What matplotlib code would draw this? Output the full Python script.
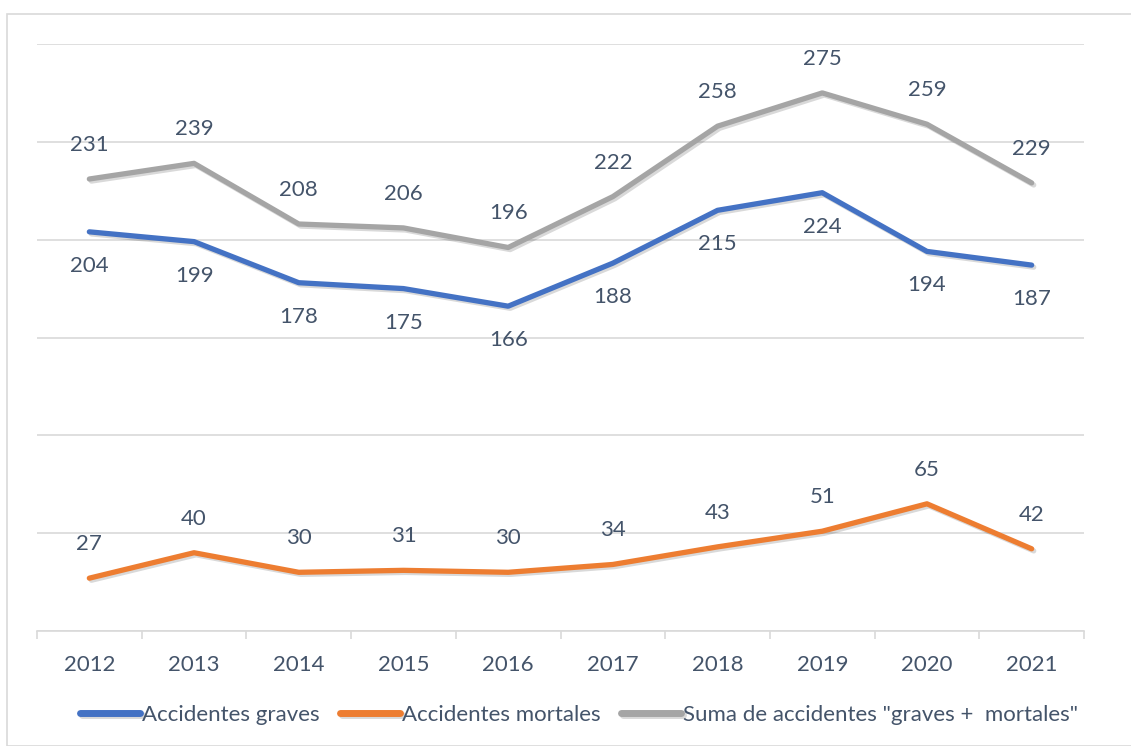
import matplotlib.pyplot as plt
import matplotlib.patheffects as pe
from matplotlib.patches import Rectangle

# data
years = ["2012", "2013", "2014", "2015", "2016", "2017", "2018", "2019", "2020", "2021"]
graves = [204, 199, 178, 175, 166, 188, 215, 224, 194, 187]
mortales = [27, 40, 30, 31, 30, 34, 43, 51, 65, 42]
suma = [231, 239, 208, 206, 196, 222, 258, 275, 259, 229]

text_col = "#44546A"
grid_col = "#D9D9D9"
fs = 16

plt.rcParams["font.family"] = ["Lato", "DejaVu Sans"]

W, H = 1131, 746
fig = plt.figure(figsize=(W / 100, H / 100), dpi=100)

# light frame round the chart area, like the Excel chart border
fig.patches.append(Rectangle((7 / W, 0), 1.2, 1 - 14 / H, transform=fig.transFigure,
                             fill=False, edgecolor="#D9D9D9", linewidth=1.2))

ax = fig.add_axes([37 / W, (H - 631) / H, 1047 / W, 587 / H])

x = list(range(len(years)))
shadow = [pe.SimpleLineShadow(offset=(1.5, -1.5), alpha=0.15, shadow_color="black"), pe.Normal()]

series = [
    (graves, "#4472C4", "Accidentes graves", -1),
    (mortales, "#ED7D31", "Accidentes mortales", 1),
    (suma, "#A5A5A5", 'Suma de accidentes "graves +  mortales"', 1),
]

for vals, col, name, side in series:
    ax.plot(x, vals, color=col, lw=3.8, solid_capstyle="round", solid_joinstyle="round",
            label=name, path_effects=shadow)
    for xi, v in zip(x, vals):
        ax.annotate(str(v), (xi, v), xytext=(0, 24.5 * side), textcoords="offset points",
                    ha="center", va="center", fontsize=fs, color=text_col)

ax.set_xlim(-0.5, len(years) - 0.5)
ax.set_ylim(0, 300)
ax.set_yticks([0, 50, 100, 150, 200, 250, 300])
ax.yaxis.grid(True, color=grid_col, lw=1.2)
ax.set_axisbelow(True)
ax.tick_params(axis="y", left=False, labelleft=False)

ax.set_xticks(x)
ax.set_xticklabels(years, fontsize=fs, color=text_col)
ax.tick_params(axis="x", length=0, pad=17)
ax.set_xticks([i - 0.5 for i in range(len(years) + 1)], minor=True)
ax.tick_params(axis="x", which="minor", length=6, color=grid_col, width=1.2)

for s in ["top", "right", "left"]:
    ax.spines[s].set_visible(False)
ax.spines["bottom"].set_color(grid_col)
ax.spines["bottom"].set_linewidth(1.2)

leg = fig.legend(loc="center", bbox_to_anchor=(0.512, (H - 715) / H), ncol=3, frameon=False,
                 fontsize=fs, handlelength=2.7, handletextpad=0.1, columnspacing=0.9)
for t in leg.get_texts():
    t.set_color(text_col)
for h in leg.get_lines():
    h.set_linewidth(5)
    h.set_solid_capstyle("round")

fig.savefig("out.png", dpi=100)
